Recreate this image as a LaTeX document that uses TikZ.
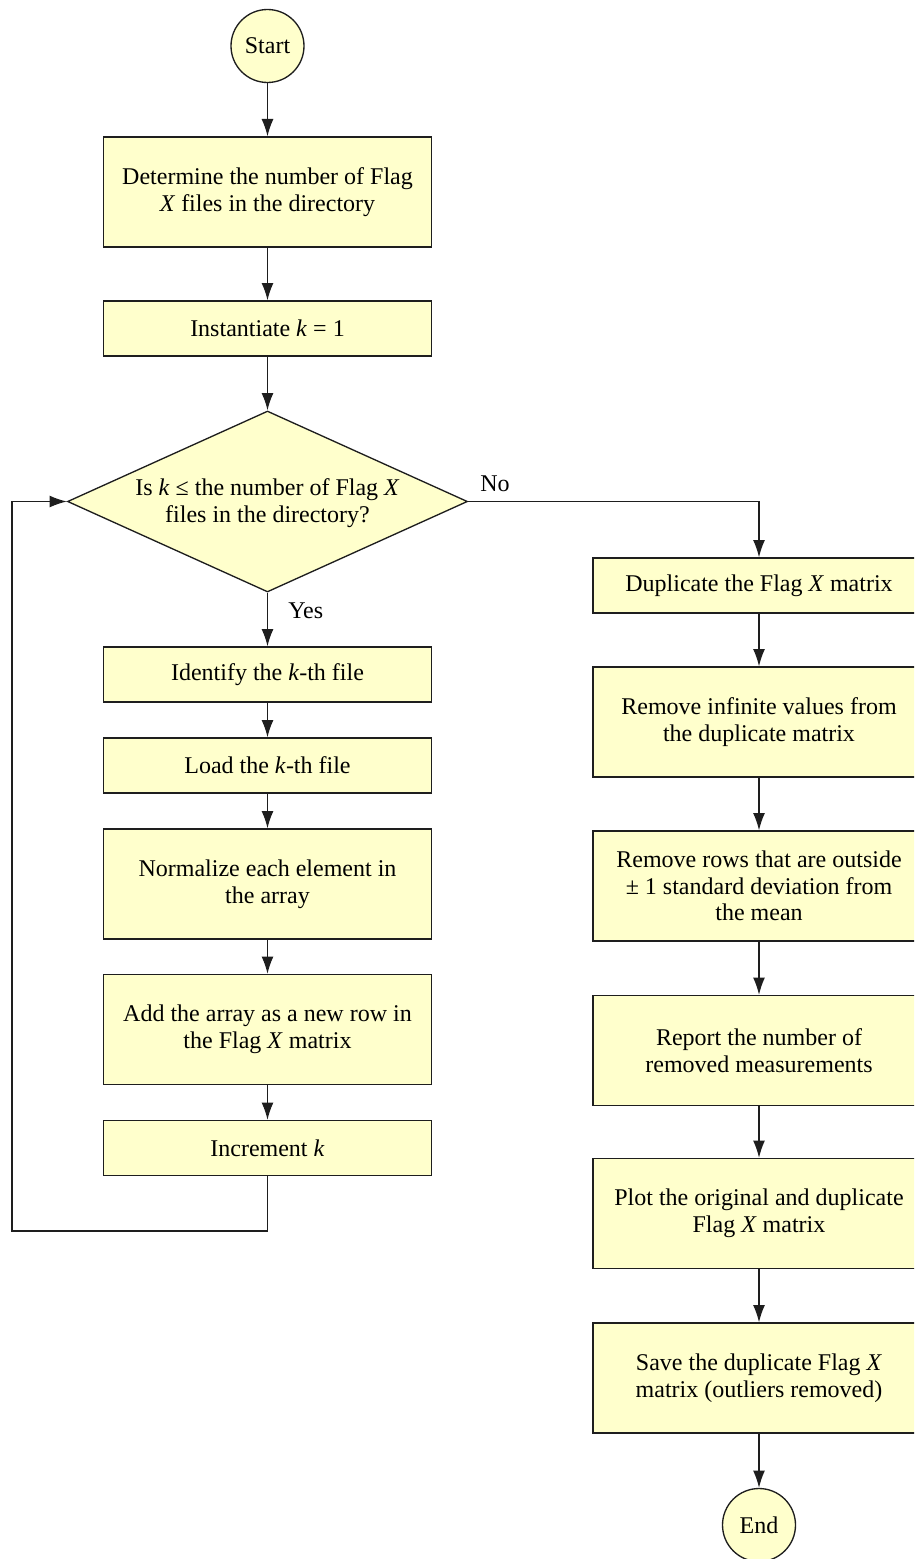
\documentclass[tikz,border=0pt]{standalone}
\usepackage{fontspec}
\setmainfont{Liberation Serif}
\usetikzlibrary{shapes.geometric,arrows.meta}
\definecolor{boxfill}{HTML}{FFFFCC}
\definecolor{boxline}{HTML}{1E1E1E}
\begin{document}
\begin{tikzpicture}[x=0.75pt,y=-0.75pt,
  txt/.style={font=\fontsize{18}{19.9}\selectfont, align=center, inner sep=0pt},
  base/.style={txt, draw=boxline, fill=boxfill, line width=1pt},
  lbox/.style={base, rectangle, minimum width=328*0.75pt},
  rbox/.style={base, rectangle, minimum width=332*0.75pt},
  short/.style={minimum height=55*0.75pt},
  tall/.style={minimum height=110*0.75pt},
  term/.style={base, circle, minimum size=73*0.75pt},
  decision/.style={base, diamond, minimum width=400*0.75pt, minimum height=181*0.75pt},
  arr/.style={draw=boxline, line width=1pt, -{Latex[length=13pt,width=9pt]}},
  lab/.style={font=\fontsize{18}{19.9}\selectfont, inner sep=0pt}]
\path[use as bounding box, clip] (0,0) rectangle (914,1559);

% left column
\node[term] (start) at (267.5,46) {Start};
\node[lbox,tall] (det) at (267.5,192) {Determine the number of Flag\\\textit{X} files in the directory};
\node[lbox,short] (inst) at (267.5,328.5) {Instantiate \textit{k} = 1};
\node[decision] (dec) at (267.5,501.5) {};
\node[txt] (dectxt) at (267.5,503) {Is \textit{k} ≤ the number of Flag \textit{X}\\files in the directory?};
\node[lbox,short] (ident) at (267.5,674.5) {Identify the \textit{k}-th file};
\node[lbox,short] (load) at (267.5,765.5) {Load the \textit{k}-th file};
\node[lbox,tall] (norm) at (267.5,884) {Normalize each element in\\the array};
\node[lbox,tall] (add) at (267.5,1029.5) {Add the array as a new row in\\the Flag \textit{X} matrix};
\node[lbox,short] (inc) at (267.5,1148) {Increment \textit{k}};

% right column
\node[rbox,short] (dup) at (759,585.5) {Duplicate the Flag \textit{X} matrix};
\node[rbox,tall] (rinf) at (759,722) {Remove infinite values from\\the duplicate matrix};
\node[rbox,tall] (rrow) at (759,886) {Remove rows that are outside\\± 1 standard deviation from\\the mean};
\node[rbox,tall] (rep) at (759,1050.5) {Report the number of\\removed measurements};
\node[rbox,tall] (plot) at (759,1213.5) {Plot the original and duplicate\\Flag \textit{X} matrix};
\node[rbox,tall] (save) at (759,1378) {Save the duplicate Flag \textit{X}\\matrix (outliers removed)};
\node[term] (end) at (759,1525) {End};

% labels
\node[lab, anchor=base west] (nolab) at (480,491) {No};
\node[lab, anchor=base west] (yeslab) at (288,618) {Yes};

% connectors
\draw[arr] (start) -- (det);
\draw[arr] (det) -- (inst);
\draw[arr] (inst) -- (dec.north);
\draw[arr] (dec.south) -- (ident);
\draw[arr] (ident) -- (load);
\draw[arr] (load) -- (norm);
\draw[arr] (norm) -- (add);
\draw[arr] (add) -- (inc);
\coordinate (loopc) at (12,1231);
\draw[arr] (inc.south) |- (loopc) |- (dec.west);
\draw[arr] (dec.east) -| (dup.north);
\draw[arr] (dup) -- (rinf);
\draw[arr] (rinf) -- (rrow);
\draw[arr] (rrow) -- (rep);
\draw[arr] (rep) -- (plot);
\draw[arr] (plot) -- (save);
\draw[arr] (save) -- (end);
\end{tikzpicture}
\end{document}
